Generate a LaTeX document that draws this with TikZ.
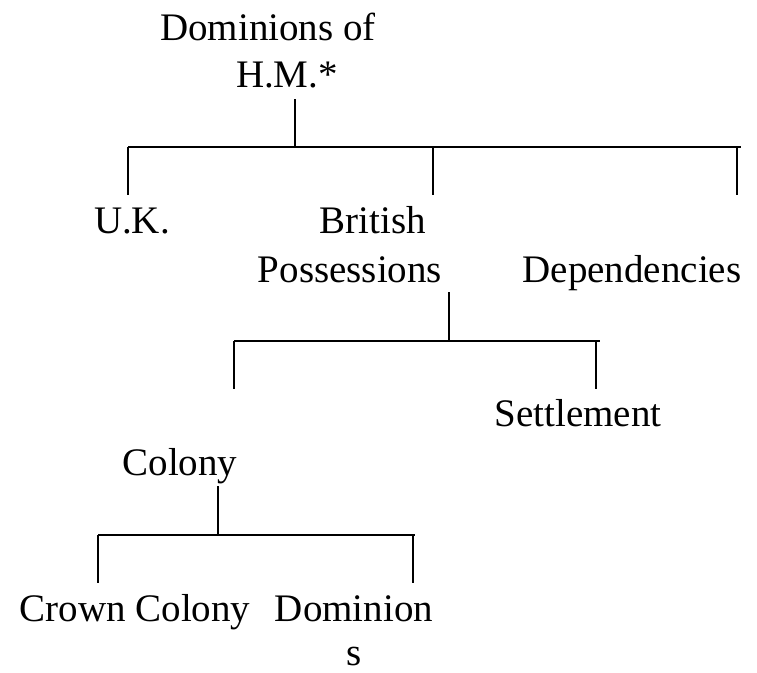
\documentclass[tikz,border=0pt]{standalone}
\usepackage{fontspec}
\setmainfont{Liberation Serif}
\usetikzlibrary{positioning}
\begin{document}
\begin{tikzpicture}[
  x=1pt, y=-1pt,
  item/.style={font=\fontsize{39}{47}\selectfont, inner sep=0pt, anchor=base},
  branch/.style={line width=1.8pt}
]
\useasboundingbox (0,0) rectangle (757,672);

% Top level: the root and its three branches
\node[item] (dom) at (268,40) {Dominions of};
\node[item] (hm) at (287,87) {H.M.*};
\coordinate (rootstem) at (295,99);
\coordinate (rootbar) at (295,147);
\coordinate (barAl) at (128,147);
\coordinate (barAr) at (741,147);
\draw[branch] (rootstem) -- (rootbar);
\draw[branch] (barAl) -- (barAr);
\foreach \x/\n in {128/uk, 433/bp, 737/dep}{
  \coordinate (\n top) at (\x,147);
  \coordinate (\n end) at (\x,195);
  \draw[branch] (\n top) -- (\n end);
}
\node[item] (uk) at (132,233) {U.K.};
\node[item] (brit) at (373,233) {British};
\node[item] (poss) at (350,282) {Possessions};
\node[item] (dep) at (632,282) {Dependencies};

% Second level: colony and settlement
\coordinate (possstem) at (449,292);
\coordinate (possbar) at (449,341);
\coordinate (barBl) at (234,341);
\coordinate (barBr) at (600,341);
\draw[branch] (possstem) -- (possbar);
\draw[branch] (barBl) -- (barBr);
\foreach \x/\n in {234/col, 596/set}{
  \coordinate (\n top) at (\x,341);
  \coordinate (\n end) at (\x,389);
  \draw[branch] (\n top) -- (\n end);
}
\node[item] (set) at (578,426) {Settlement};
\node[item] (col) at (180,475) {Colony};

% Third level: crown colony and dominions
\coordinate (colstem) at (218,486);
\coordinate (colbar) at (218,535);
\coordinate (barCl) at (98,535);
\coordinate (barCr) at (415,535);
\draw[branch] (colstem) -- (colbar);
\draw[branch] (barCl) -- (barCr);
\foreach \x/\n in {98/cc, 413/dm}{
  \coordinate (\n top) at (\x,535);
  \coordinate (\n end) at (\x,583);
  \draw[branch] (\n top) -- (\n end);
}
\node[item] (cc) at (135,621) {Crown Colony};
\node[item] (dm) at (354,621) {Dominion};
\node[item] (dms) at (354,665) {s};
\end{tikzpicture}
\end{document}
